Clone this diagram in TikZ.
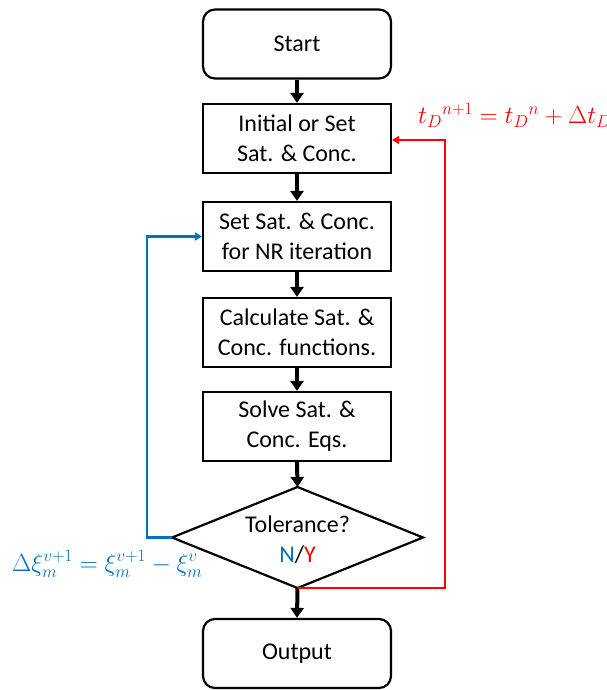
\documentclass[tikz,border=0pt]{standalone}
\usepackage{fontspec}
\setmainfont{Carlito}
\usetikzlibrary{arrows.meta}
\definecolor{myred}{RGB}{255,0,0}
\definecolor{myblue}{RGB}{0,112,192}
\begin{document}
\begin{tikzpicture}[x=1pt,y=-1pt,
  box/.style={draw, line width=2.2pt, minimum width=188pt, minimum height=69pt, inner sep=0pt, align=center, font=\fontsize{24}{30}\selectfont},
  term/.style={box, rounded corners=12pt},
  flow/.style={line width=4pt, -{Triangle[length=10pt,width=13pt]}},
  loopred/.style={draw=myred, line width=2.2pt, -{Triangle[length=7pt,width=8pt]}},
  loopblue/.style={draw=myblue, line width=2.2pt, -{Triangle[length=7pt,width=8pt]}},
  formula/.style={anchor=base west, inner sep=0pt}
]
\useasboundingbox (0,0) rectangle (606,690);

\node[term] (start) at (297,44) {Start};
\node[box] (init) at (297,138.5) {Initial or Set\\Sat. \& Conc.};
\node[box] (set) at (297,236.5) {Set Sat. \& Conc.\\for NR iteration};
\node[box] (calc) at (297,332.5) {Calculate Sat. \&\\Conc. functions.};
\node[box] (solve) at (297,426.5) {Solve Sat. \&\\Conc. Eqs.};

\coordinate (dT) at (297.5,487);
\coordinate (dR) at (423,537.5);
\coordinate (dB) at (297.5,588);
\coordinate (dL) at (172,537.5);
\draw[line width=2.2pt, line join=miter] (dT) -- (dR) -- (dB) -- (dL) -- cycle;
\node[align=center, font=\fontsize{24}{30}\selectfont] (tol) at (297.5,540) {Tolerance?\\\textcolor{myblue}{N}/\textcolor{myred}{Y}};

\node[term] (out) at (297,653.5) {Output};

\draw[flow] (start) -- (init);
\draw[flow] (init) -- (set);
\draw[flow] (set) -- (calc);
\draw[flow] (calc) -- (solve);
\draw[flow] (solve.south) -- (dT);
\draw[flow] (dB) -- (out.north);

\coordinate (rc) at (445,140);
\draw[loopred] (dB) -| (rc) -- (init.east |- rc);
\coordinate (bc) at (147,236.5);
\draw[loopblue] (dL) -| (bc) -- (set.west);

\node[formula, text=myred, font=\fontsize{26}{30}\selectfont] (tform) at (418,124) {$t_D{}^{n+1} = t_D{}^{n} + \Delta t_D$};
\node[formula, text=myblue, font=\fontsize{25}{30}\selectfont] (xform) at (12,571) {$\Delta\xi_m^{v+1} = \xi_m^{v+1} - \xi_m^{v}$};
\end{tikzpicture}
\end{document}
